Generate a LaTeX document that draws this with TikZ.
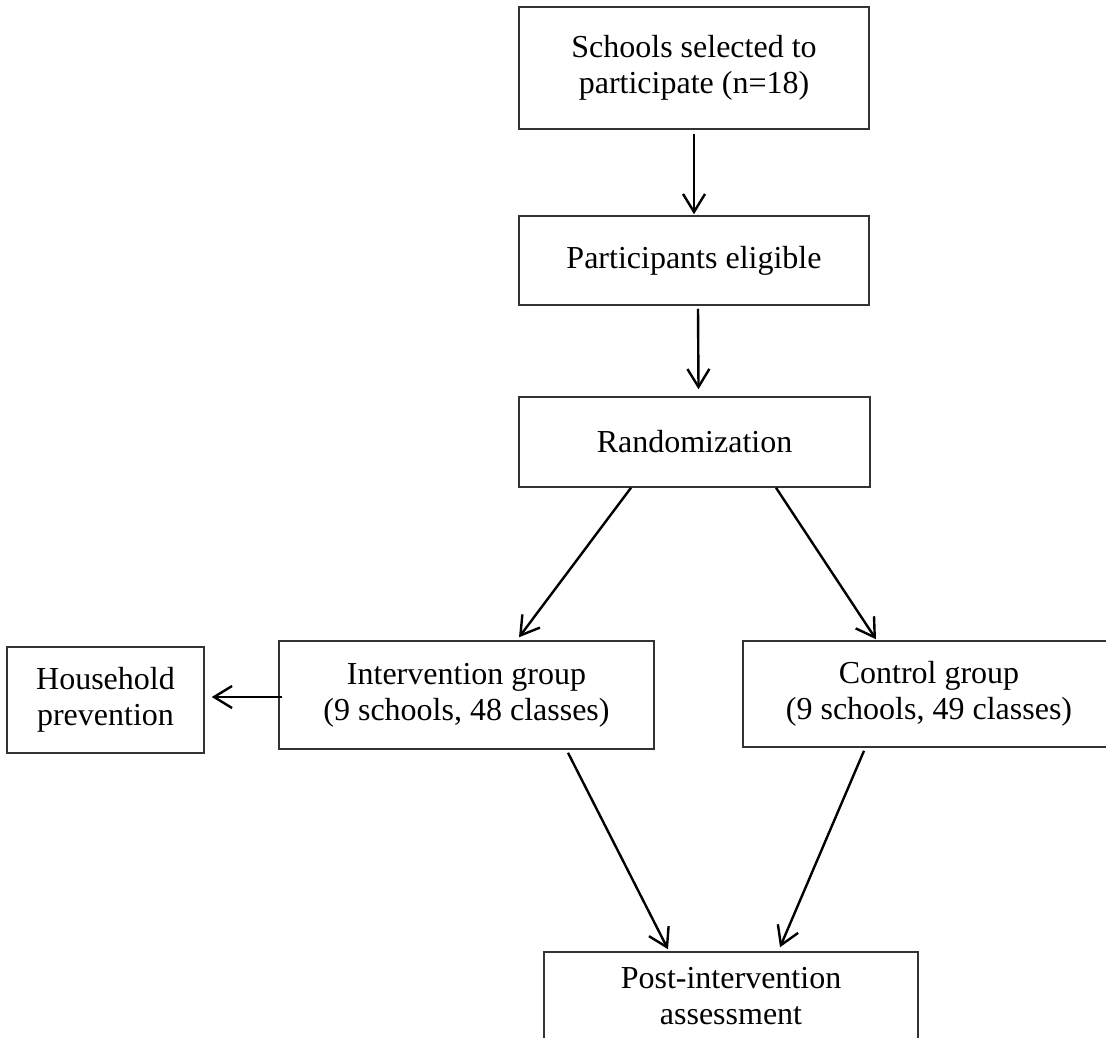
\documentclass[tikz,border=0pt]{standalone}
\usepackage{fontspec}
\setmainfont{Liberation Serif}
\usetikzlibrary{arrows.meta, positioning}

\tikzset{
  flowbox/.style={draw=black!80, line width=0.75pt, align=center, inner sep=0pt,
    font=\fontsize{16}{18}\selectfont},
  flowarrow/.style={line width=1.2pt, -{Straight Barb[length=9pt, width=11pt, line width=1.2pt]}},
}

\begin{document}
\begin{tikzpicture}[x=0.5pt, y=-0.5pt]
  \clip (0,0) rectangle (1106,1037);
  % boxes: centre at (x,y) in px, sizes in pt (1px = 0.5pt)
  \node[flowbox, minimum width=175pt, minimum height=61pt] (schools) at (694,68) {Schools selected to\\participate (n=18)};
  \node[flowbox, minimum width=175pt, minimum height=44.5pt] (eligible) at (694,260.5) {Participants eligible};
  \node[flowbox, minimum width=175.5pt, minimum height=45pt] (random) at (694.5,442) {Randomization};
  \node[flowbox, minimum width=98.5pt, minimum height=53pt] (household) at (105.5,700) {Household\\prevention};
  \node[flowbox, minimum width=187.5pt, minimum height=54pt] (interv) at (466.5,695) {Intervention group\\(9 schools, 48 classes)};
  \node[flowbox, minimum width=186pt, minimum height=53pt] (control) at (929,694) {Control group\\(9 schools, 49 classes)};
  \node[flowbox, minimum width=187pt, minimum height=44pt] (post) at (731,996) {Post-intervention\\assessment};

  % arrows
  \draw[flowarrow] ([shift={(0,4)}]schools.south) -- ([shift={(0,-1)}]eligible.north);
  \draw[flowarrow] ([shift={(4,3)}]eligible.south) -- ([shift={(4,-7)}]random.north);
  \draw[flowarrow] ([shift={(-63.5,0)}]random.south) -- ([shift={(52.5,-3)}]interv.north);
  \draw[flowarrow] ([shift={(81.5,0)}]random.south) -- ([shift={(-53,-1)}]control.north);
  \draw[flowarrow] ([shift={(4,2)}]interv.west) -- ([shift={(7,-3)}]household.east);
  \draw[flowarrow] ([shift={(101.5,3)}]interv.south) -- ([shift={(-63,-2)}]post.north);
  \draw[flowarrow] ([shift={(-65,3)}]control.south) -- ([shift={(49,-4)}]post.north);
\end{tikzpicture}
\end{document}
